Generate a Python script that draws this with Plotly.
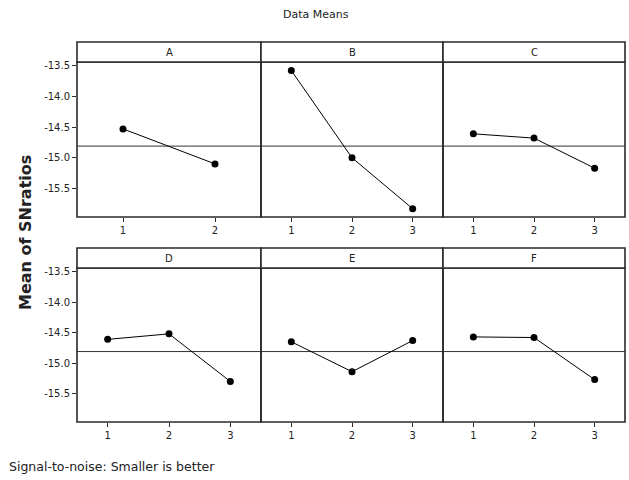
import plotly.graph_objects as go

# ---- data ----
factors = ["A", "B", "C", "D", "E", "F"]
levels_A = [1, 2]
levels_3 = [1, 2, 3]
means_A = [-14.53, -15.10]
means_B = [-13.58, -15.00, -15.83]
means_C = [-14.61, -14.68, -15.17]
means_D = [-14.61, -14.52, -15.30]
means_E = [-14.65, -15.14, -14.63]
means_F = [-14.57, -14.58, -15.27]
grand_mean = -14.81
y_tick_vals = [-13.5, -14.0, -14.5, -15.0, -15.5]
y_tick_text = ["-13.5", "-14.0", "-14.5", "-15.0", "-15.5"]

panel_levels = [levels_A, levels_3, levels_3, levels_3, levels_3, levels_3]
panel_means = [means_A, means_B, means_C, means_D, means_E, means_F]

# ---- layout geometry (pixels) ----
W, H = 629, 480
col_px = [(77, 261), (261, 443), (443, 625)]
row_px = [(62, 217), (268, 422)]
header_px = [(42, 62), (248, 268)]
y_range = [-15.965, -13.44]
border = "#2a2a2a"
FONT = "DejaVu Sans"

fig = go.Figure()
layout = dict(
    width=W, height=H,
    margin=dict(l=0, r=0, t=0, b=0, autoexpand=False),
    paper_bgcolor="white", plot_bgcolor="white",
    showlegend=False,
)
shapes = []
annotations = []

for i, name in enumerate(factors):
    r, c = divmod(i, 3)
    k = i + 1
    sfx = "" if k == 1 else str(k)
    x0, x1 = col_px[c]
    y0, y1 = row_px[r]
    lv = panel_levels[i]
    fig.add_trace(go.Scatter(
        x=lv, y=panel_means[i],
        xaxis="x" + sfx, yaxis="y" + sfx,
        mode="lines+markers",
        line=dict(color="black", width=1),
        marker=dict(color="black", size=7),
        hoverinfo="skip", cliponaxis=False,
    ))
    layout["xaxis" + sfx] = dict(
        domain=[x0 / W, x1 / W], anchor="y" + sfx,
        range=[0.5, len(lv) + 0.5],
        tickvals=lv, ticktext=[str(v) for v in lv],
        showline=False,
        ticks="outside", ticklen=4, tickcolor=border, tickwidth=1,
        showgrid=False, zeroline=False, automargin=False,
        tickfont=dict(family=FONT, size=10, color="#222"),
    )
    layout["yaxis" + sfx] = dict(
        domain=[1 - y1 / H, 1 - y0 / H], anchor="x" + sfx,
        range=y_range,
        tickvals=y_tick_vals, ticktext=y_tick_text,
        showticklabels=(c == 0),
        ticks="outside" if c == 0 else "", ticklen=4, tickcolor=border, tickwidth=1,
        showline=False,
        showgrid=False, zeroline=False, automargin=False,
        tickfont=dict(family=FONT, size=10, color="#222"),
    )
    # grand mean reference line
    shapes.append(dict(
        type="line", xref="x" + sfx + " domain", yref="y" + sfx,
        x0=0, x1=1, y0=grand_mean, y1=grand_mean,
        line=dict(color="#333", width=1), layer="below",
    ))
    # panel frame
    shapes.append(dict(
        type="rect", xref="paper", yref="paper",
        x0=x0 / W, x1=x1 / W, y0=1 - y1 / H, y1=1 - y0 / H,
        line=dict(color=border, width=1.6),
    ))
    # header strip
    hy0, hy1 = header_px[r]
    shapes.append(dict(
        type="rect", xref="paper", yref="paper",
        x0=x0 / W, x1=x1 / W, y0=1 - hy1 / H, y1=1 - hy0 / H,
        line=dict(color=border, width=1.6), fillcolor="white",
    ))
    annotations.append(dict(
        text=name, xref="paper", yref="paper",
        x=(x0 + x1) / 2 / W, y=1 - (hy0 + hy1) / 2 / H,
        xanchor="center", yanchor="middle", showarrow=False,
        font=dict(family=FONT, size=10, color="#222"),
    ))

annotations.append(dict(
    text="Data Means", xref="paper", yref="paper",
    x=316 / W, y=1 - 14 / H, xanchor="center", yanchor="middle",
    showarrow=False, font=dict(family=FONT, size=11, color="#222"),
))
annotations.append(dict(
    text="<b>Mean of SNratios</b>", xref="paper", yref="paper",
    x=26 / W, y=1 - 233 / H, xanchor="center", yanchor="middle",
    textangle=-90, showarrow=False,
    font=dict(family=FONT, size=16, color="#222"),
))
annotations.append(dict(
    text="Signal-to-noise: Smaller is better", xref="paper", yref="paper",
    x=7 / W, y=1 - 466 / H, xanchor="left", yanchor="middle",
    showarrow=False, font=dict(family=FONT, size=12.5, color="#222"),
))

layout["shapes"] = shapes
layout["annotations"] = annotations
fig.update_layout(**layout)
fig.write_html(
    "out.html",
    config={"displayModeBar": False},
    post_script="document.body.style.margin='0px';document.body.style.padding='0px';",
)
